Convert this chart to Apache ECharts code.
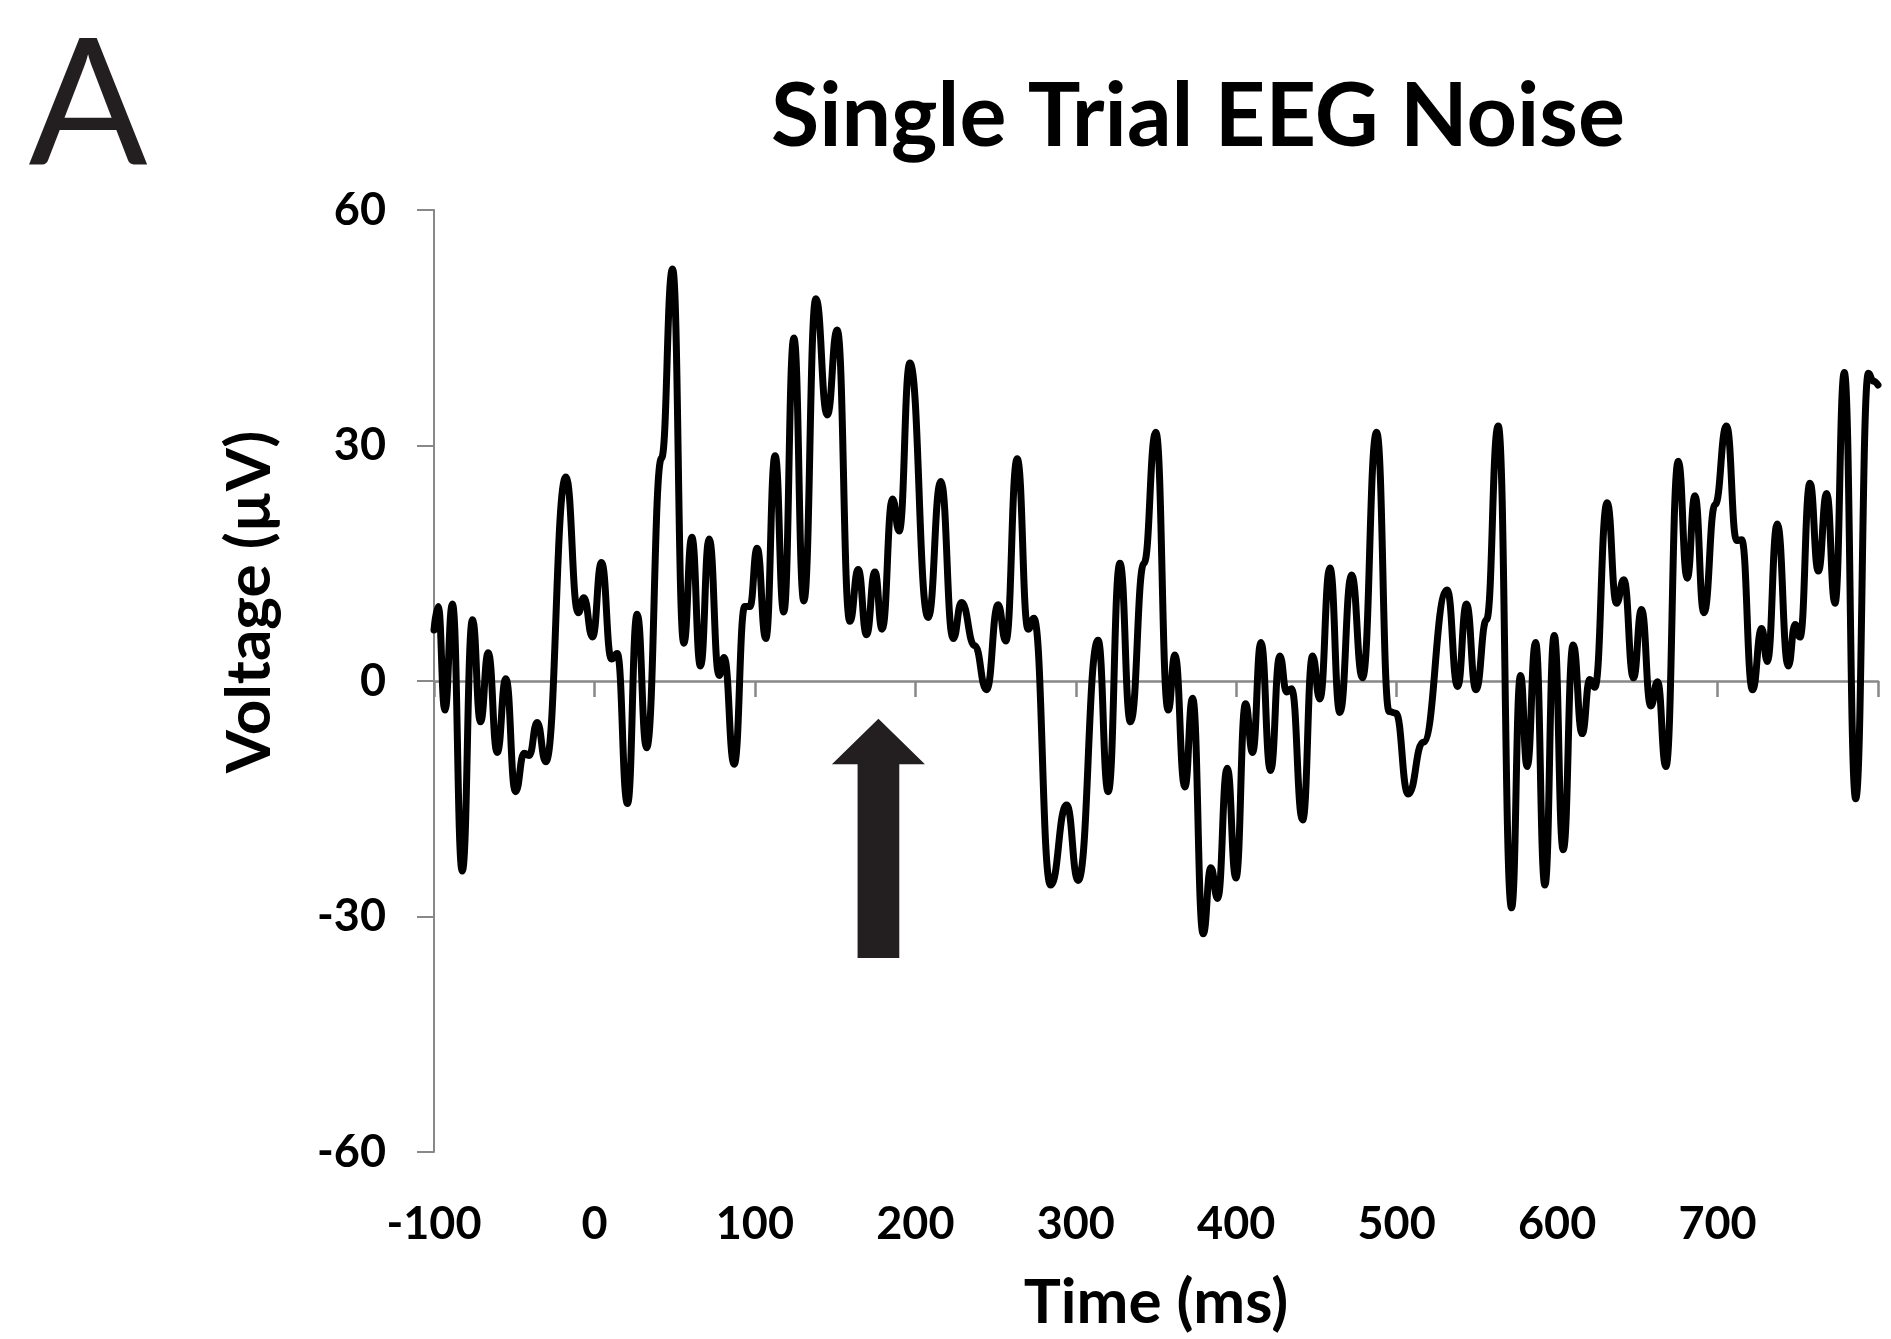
<!DOCTYPE html>
<html><head><meta charset="utf-8">
<script src="https://cdn.jsdelivr.net/npm/echarts@6/dist/echarts.min.js"></script>
<style>html,body{margin:0;padding:0;background:#fff}#c{width:1891px;height:1339px}</style>
</head><body><div id="c"></div>
<script>
// Time (ms) of each read-off turning point of the single-trial trace
const timesMs = [
  -100, -97.4, -93.2, -88.5, -82.4, -76.0, -71.0, -66.2, -60.6, -55.2, -49.2, -43.8, -40.7, -35.7, -30.3,
  -17.8, -10.1, -6.6, -1.2, 4.4, 10.6, 14.2, 20.6, 26.6, 32.5, 41.8, 48.7,
  55.7, 60.7, 66.1, 71.5, 77.7, 80.8, 87.1, 93.7, 96.9, 101.4, 106.8, 112.6, 118.0, 124.3, 130.5,
  138.0, 145.1, 151.3, 159.2, 164.4, 169.6, 174.8, 179.3, 185.8, 189.9, 196.6,
  208.0, 215.9, 223.6, 228.8, 237.0, 244.4, 251.6, 256.4, 263.5, 270.3, 273.9,
  284.3, 294.3, 301.5, 313.9, 320.2, 327.5, 334.1, 342.5, 349.9,
  357.6, 361.8, 368.0, 372.8, 379.4, 384.2, 388.4, 394.4, 399.8, 405.8, 410.2, 415.4, 421.4,
  427.2, 431.4, 434.5, 441.4, 447.6, 452.1, 458.4, 464.6, 471.9, 478.7, 487.5, 495.3, 499.5,
  507.2, 516.5, 531.5, 538.0, 543.5, 549.4, 556.0, 563.3, 571.6, 577.2, 581.3, 586.6, 592.4,
  598.2, 603.8, 610.0, 615.6, 620.4, 623.5, 631.2, 637.0, 641.6, 647.6, 652.6, 658.4, 662.6,
  667.8, 675.5, 681.1, 685.9, 691.5, 698.5, 705.6, 711.9, 715.0, 721.8, 727.5, 731.0, 737.2,
  744.1, 748.3, 751.4, 757.6, 762.8, 768.0, 773.2, 779.0, 786.1, 794.0, 797.1, 800
];
// Voltage (µV) at those times
const voltagesUV = [
  6.5, 9.5, -3.7, 9.8, -24.2, 7.8, -5.2, 3.6, -9.1, 0.3, -14.1, -9.2, -9.5, -5.3, -10.3,
  26.0, 8.7, 10.6, 5.6, 15.1, 2.8, 3.5, -15.6, 8.5, -8.5, 28.4, 52.5,
  4.8, 18.3, 1.9, 18.1, 0.7, 3.0, -10.6, 9.5, 9.5, 16.9, 5.4, 28.7, 8.8, 43.7, 10.2,
  48.7, 33.9, 44.7, 7.6, 14.2, 5.9, 13.9, 6.6, 23.2, 19.1, 40.5,
  8.1, 25.4, 5.4, 10.0, 4.5, -1.1, 9.7, 5.1, 28.3, 6.6, 8.0,
  -26.0, -15.8, -25.4, 5.2, -14.1, 15.0, -5.2, 15.0, 31.7,
  -3.7, 3.3, -13.5, -2.2, -32.2, -23.8, -27.7, -11.1, -25.1, -2.9, -9.1, 4.9, -11.4,
  3.2, -1.4, -1.0, -17.7, 3.2, -2.3, 14.4, -4.0, 13.5, 0.4, 31.7, -3.9, -4.1,
  -14.4, -7.8, 11.6, -0.7, 9.8, -1.1, 7.8, 32.5, -28.9, 0.7, -10.9, 4.9, -26.0,
  5.8, -21.5, 4.6, -6.7, 0.2, -0.8, 22.7, 9.9, 12.9, 0.4, 9.1, -3.2, -0.1,
  -10.9, 28.0, 13.1, 23.6, 8.7, 22.5, 32.5, 17.9, 18.0, -1.1, 6.7, 2.5, 20.0,
  1.9, 7.2, 5.6, 25.2, 14.0, 23.9, 9.9, 39.3, -15.0, 39.2, 38.2, 37.7
];
// Axis scales / tick labels
const xMin = -100, xMax = 800, xStep = 100;
const yMin = -60, yMax = 60, yStep = 30;
// Arrow annotation (data units): x, tip, head base, tail, head half-width (ms), shaft half-width (ms)
const arrowAnnot = [177, -4.8, -10.6, -35.3, 29, 13];

const titleText = 'Single Trial EEG Noise';
const xName = 'Time (ms)';
const yName = 'Voltage (µV)';
const panelLetter = 'A';

const FONT = 'Lato';
const chart = echarts.init(document.getElementById('c'), null, {renderer: 'canvas'});
const lineData = timesMs.map((t, i) => [t, voltagesUV[i]]);

chart.setOption({
  animation: false,
  backgroundColor: '#ffffff',
  grid: {left: 434, right: 13, top: 210, bottom: 183, containLabel: false},
  xAxis: [
    {
      type: 'value', min: xMin, max: xMax, interval: xStep, position: 'bottom',
      axisLine: {show: false, onZero: false},
      axisTick: {show: false},
      splitLine: {show: false},
      axisLabel: {
        margin: 50, color: '#000', fontFamily: FONT, fontWeight: 'bold', fontSize: 45,
        formatter: v => (v === xMax ? '' : String(v))
      },
      name: xName, nameLocation: 'middle', nameGap: 120,
      nameTextStyle: {color: '#000', fontFamily: FONT, fontWeight: 'bold', fontSize: 62}
    },
    {
      type: 'value', min: xMin, max: xMax, interval: xStep, position: 'bottom',
      axisLine: {show: true, onZero: true, lineStyle: {color: '#888888', width: 2.5}},
      axisTick: {show: true, length: 16, lineStyle: {color: '#888888', width: 2.5}},
      axisLabel: {show: false},
      splitLine: {show: false}
    }
  ],
  yAxis: {
    type: 'value', min: yMin, max: yMax, interval: yStep,
    axisLine: {show: true, onZero: false, lineStyle: {color: '#888888', width: 2}},
    axisTick: {show: true, length: 17, lineStyle: {color: '#888888', width: 2}},
    splitLine: {show: false},
    axisLabel: {margin: 48, color: '#000', fontFamily: FONT, fontWeight: 'bold', fontSize: 45}
  },
  graphic: [
    {type: 'text', x: 1198, y: 118, style: {text: titleText, fill: '#000', font: 'bold 88px ' + FONT, align: 'center', verticalAlign: 'middle'}},
    {type: 'text', x: 88, y: 108, style: {text: panelLetter, fill: '#231f20', font: 'normal 176px ' + FONT, align: 'center', verticalAlign: 'middle'}},
    {type: 'text', x: 250, y: 602, rotation: Math.PI / 2, style: {text: yName, fill: '#000', font: 'bold 62px ' + FONT, align: 'center', verticalAlign: 'middle'}}
  ],
  series: [
    {
      type: 'line', xAxisIndex: 0, yAxisIndex: 0, data: lineData,
      showSymbol: false, smooth: 0.5, smoothMonotone: 'x',
      lineStyle: {color: '#000', width: 7, join: 'round', cap: 'round'},
      z: 5, silent: true
    },
    {
      type: 'custom', xAxisIndex: 0, yAxisIndex: 0, data: [arrowAnnot],
      encode: {x: 0, y: 1}, clip: false, z: 4, silent: true,
      renderItem: (params, api) => {
        const x = api.value(0);
        const tip = api.coord([x, api.value(1)]);
        const hb = api.coord([x, api.value(2)]);
        const bt = api.coord([x, api.value(3)]);
        const hw = api.coord([x + api.value(4), 0])[0] - tip[0];
        const sw = api.coord([x + api.value(5), 0])[0] - tip[0];
        const cx = tip[0];
        return {
          type: 'polygon',
          shape: {points: [[cx, tip[1]], [cx + hw, hb[1]], [cx + sw, hb[1]], [cx + sw, bt[1]],
                           [cx - sw, bt[1]], [cx - sw, hb[1]], [cx - hw, hb[1]]]},
          style: {fill: '#231f20'}
        };
      }
    }
  ]
});
</script></body></html>
